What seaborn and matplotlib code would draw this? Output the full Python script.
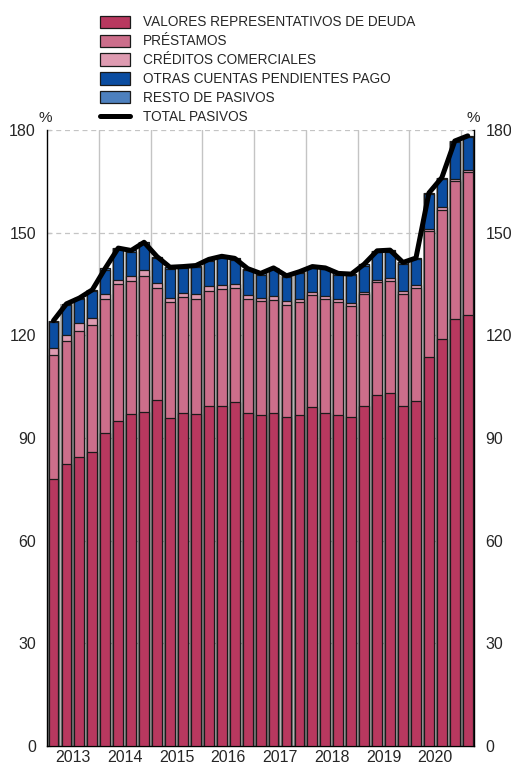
import numpy as np
import pandas as pd
import matplotlib
matplotlib.use('Agg')
import matplotlib.pyplot as plt
from matplotlib.patches import Patch
from matplotlib.lines import Line2D
import seaborn as sns

# quarterly data 2013 Q1 - 2021 Q1 (% )
quarters = [f'{y}T{q}' for y in range(2013, 2021) for q in range(1, 5)] + ['2021T1']
years = ['2013', '2014', '2015', '2016', '2017', '2018', '2019', '2020']

valores = [78.1, 82.3, 84.5, 85.8, 91.5, 94.9, 97.1, 97.7, 101.1, 95.9, 97.3,
           97.0, 99.3, 99.4, 100.6, 97.3, 96.6, 97.2, 96.2, 96.6, 99.1, 97.2,
           96.6, 96.2, 99.3, 102.5, 103.1, 99.3, 100.9, 113.7, 119.0, 124.7, 126.0]
prestamos = [36.2, 36.0, 36.8, 37.1, 39.1, 40.1, 38.9, 39.6, 32.8, 33.8, 33.9,
             33.7, 33.6, 34.1, 33.2, 33.4, 33.4, 33.2, 32.8, 33.0, 32.6, 33.5,
             33.0, 32.4, 32.7, 33.1, 32.8, 32.7, 33.0, 36.9, 37.7, 40.3, 41.6]
creditos = [2.0, 1.9, 2.4, 2.2, 1.4, 1.3, 1.4, 1.7, 1.3, 1.3, 1.2,
            1.3, 1.5, 1.2, 1.2, 1.1, 1.0, 1.0, 1.0, 1.1, 1.1, 0.7,
            0.9, 0.9, 0.8, 0.7, 0.8, 0.9, 0.8, 0.6, 0.8, 0.7, 0.8]
otras = [7.6, 8.6, 6.8, 7.8, 7.2, 8.8, 7.0, 7.8, 7.4, 8.5, 7.3,
         8.0, 7.4, 8.0, 7.1, 7.3, 6.7, 7.9, 7.0, 7.5, 6.9, 7.9,
         7.2, 8.0, 7.6, 8.0, 7.8, 8.0, 7.5, 10.0, 8.2, 10.7, 9.5]
resto = [0.4, 0.4, 0.4, 0.4, 0.4, 0.4, 0.4, 0.4, 0.4, 0.4, 0.4,
         0.4, 0.4, 0.4, 0.4, 0.4, 0.4, 0.4, 0.4, 0.4, 0.4, 0.4,
         0.4, 0.4, 0.4, 0.4, 0.4, 0.4, 0.4, 0.4, 0.4, 0.4, 0.4]

labels = ['VALORES REPRESENTATIVOS DE DEUDA', 'PRÉSTAMOS', 'CRÉDITOS COMERCIALES',
          'OTRAS CUENTAS PENDIENTES PAGO', 'RESTO DE PASIVOS']
colors = ['#B8385F', '#CC6E8B', '#DE9BB1', '#0B4DA1', '#4D80BE']

df = pd.DataFrame({'q': quarters, 'v': valores, 'p': prestamos, 'c': creditos,
                   'o': otras, 'r': resto})
parts = ['v', 'p', 'c', 'o', 'r']
cum = df[parts].cumsum(axis=1)
df['total'] = cum['r']
df['pos'] = np.arange(len(df))

sns.set_style('white')
plt.rcParams['font.family'] = ['Liberation Sans', 'DejaVu Sans']

fig = plt.figure(figsize=(5.11, 7.65), dpi=100)
ax = fig.add_axes([0.092, 0.025, 0.836, 0.805])

# gray shadow behind every bar
sns.barplot(x=df['q'], y=df['total'], color='#b4b4b4', width=0.94,
            edgecolor='none', linewidth=0, saturation=1, ax=ax, zorder=2)

# stacked bars, drawn from top layer down
for i in range(len(parts) - 1, -1, -1):
    sns.barplot(x=df['q'], y=cum[parts[i]], color=colors[i], width=0.76,
                edgecolor='#1a1a1a', linewidth=0.9, saturation=1, ax=ax, zorder=3)

sns.lineplot(x=df['pos'], y=df['total'], color='black', linewidth=3.6,
             ax=ax, zorder=5, solid_joinstyle='round', solid_capstyle='round')

ax.set_xlim(-0.5, len(df) - 0.5)
ax.set_ylim(0, 180)
ax.set_xlabel('')
ax.set_ylabel('')

ticks = np.arange(0, 181, 30)
ax.set_yticks(ticks)
ax.yaxis.set_ticks_position('both')
ax.tick_params(axis='y', direction='in', length=3, width=0.8, labelsize=11.5,
               left=True, right=True, labelleft=True, labelright=True, pad=8)
for t in ticks[1:]:
    ax.axhline(t, color='#c4c4c4', lw=0.9, ls=(0, (4, 3)), zorder=1)
for b in np.arange(3.5, len(df) - 1, 4):
    ax.axvline(b, color='#c4c4c4', lw=1.0, zorder=1)

ax.set_xticks(np.arange(1.5, 32, 4))
ax.set_xticklabels(years)
ax.tick_params(axis='x', length=0, labelsize=11.5, pad=3)

for s in ['left', 'right', 'bottom']:
    ax.spines[s].set_visible(True)
    ax.spines[s].set_color('black')
    ax.spines[s].set_linewidth(1.0)
ax.spines['top'].set_visible(False)

fig.text(0.088, 0.836, '%', ha='center', va='bottom', fontsize=11)
fig.text(0.926, 0.836, '%', ha='center', va='bottom', fontsize=11)

handles = [Patch(facecolor=c, edgecolor='#1a1a1a', linewidth=0.9) for c in colors]
handles.append(Line2D([0], [0], color='black', lw=3.6))
fig.legend(handles, labels + ['TOTAL PASIVOS'], loc='upper left',
           bbox_to_anchor=(0.185, 0.987), frameon=False, fontsize=9.8,
           handlelength=2.2, handleheight=1.0, labelspacing=0.36,
           handletextpad=0.95, borderaxespad=0)

fig.savefig('out.png', dpi=100)
